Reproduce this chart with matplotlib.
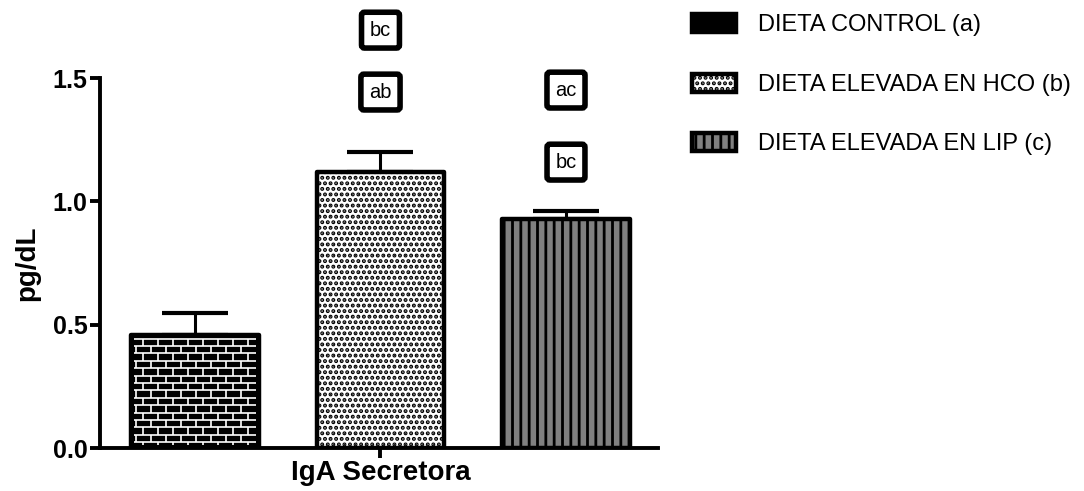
#-*- coding: utf-8 -*-
# IgA secretora por dieta, barras con error y letras de significancia
import numpy as np
import matplotlib
matplotlib.use('Agg')
import matplotlib.pyplot as plt
from matplotlib.collections import LineCollection

plt.rcParams['font.family'] = ['Liberation Sans', 'DejaVu Sans']
plt.rcParams['hatch.linewidth'] = 2.0

grupos = ['DIETA CONTROL (a)', 'DIETA ELEVADA EN HCO (b)', 'DIETA ELEVADA EN LIP (c)']
medias = [0.46, 1.12, 0.93]
errores = [0.087, 0.078, 0.032]
categoria = 'IgA Secretora'
letras = [[], ['ab', 'bc'], ['ac', 'bc']]
letras_y = [[], [1.443, 1.694], [1.451, 1.159]]

colores = ['black', 'white', '#808080']
tramas = [None, '...', '||']

fig = plt.figure(figsize=(10.84, 4.91), dpi=100)
ax = fig.add_axes([100/1084, 43/491, 558/1084, 370/491])

ind = np.arange(len(medias))
width = 0.685
rects = []
for i in range(len(medias)):
    r = ax.bar(ind[i], medias[i], width, color=colores[i], edgecolor='black',
               linewidth=3.2, hatch=tramas[i], label=grupos[i], zorder=2)
    r[0].set_joinstyle('round')
    rects.append(r)

ax.errorbar(ind, medias, yerr=[np.zeros(len(medias)), errores], fmt='none',
            ecolor='black', elinewidth=2.2, capsize=23.5, capthick=3, zorder=1)

ax.set_xlim(-0.512, 2.496)
ax.set_ylim(0, 1.5)

# textura de ladrillos para la dieta control
px_x = ax.transData.transform((1, 0))[0] - ax.transData.transform((0, 0))[0]
px_y = ax.transData.transform((0, 1))[1] - ax.transData.transform((0, 0))[1]
rect = rects[0][0]
x0, w, h = rect.get_x(), rect.get_width(), rect.get_height()
fila = 7.4 / px_y
ladrillo = 15.0 / px_x
ins_x = 2.6 / px_x
ins_y = 2.6 / px_y
xa, xb = x0 + ins_x, x0 + w - ins_x
segs = []
ys = np.arange(h - fila * 0.55, ins_y, -fila)
for k, y in enumerate(ys):
    segs.append([(xa, y), (xb, y)])
    y_bot = max(y - fila, ins_y)
    off = 0.5 * ladrillo if k % 2 == 0 else 0.0
    for xv in np.arange(x0 + off + ladrillo * 0.3, xb, ladrillo):
        if xv > xa:
            segs.append([(xv, y), (xv, y_bot)])
ax.add_collection(LineCollection(segs, colors='white', linewidths=1.2, zorder=2.5))

# letras de significancia
for i in range(len(medias)):
    for s, yv in zip(letras[i], letras_y[i]):
        ax.text(ind[i], yv, s, ha='center', va='center', fontsize=14.4, clip_on=False,
                bbox=dict(boxstyle='round,pad=0.42,rounding_size=0.15', fc='white', ec='black', lw=4))

for side in ['top', 'right']:
    ax.spines[side].set_visible(False)
for side in ['left', 'bottom']:
    ax.spines[side].set_linewidth(2.8)
    ax.spines[side].set_capstyle('projecting')

ax.set_yticks([0, 0.5, 1.0, 1.5])
ax.set_yticklabels(['0.0', '0.5', '1.0', '1.5'])
ax.set_xticks([1])
ax.set_xticklabels([categoria])
ax.tick_params(direction='out', length=7, width=2.8, pad=2)
for lbl in ax.get_yticklabels():
    lbl.set_fontsize(18)
    lbl.set_fontweight('bold')
for lbl in ax.get_xticklabels():
    lbl.set_fontsize(20)
    lbl.set_fontweight('bold')

ax.set_ylabel('pg/dL', fontsize=20, fontweight='bold')
ax.yaxis.set_label_coords(-0.1075, 0.5)

fig.legend([r[0] for r in rects], grupos, loc='upper left',
           bbox_to_anchor=(692/1084, 1 - 14/491), frameon=False, fontsize=17,
           handlelength=1.86, handleheight=0.8, handletextpad=0.93,
           labelspacing=1.58, borderpad=0, borderaxespad=0)

fig.savefig('out.png', dpi=100)
